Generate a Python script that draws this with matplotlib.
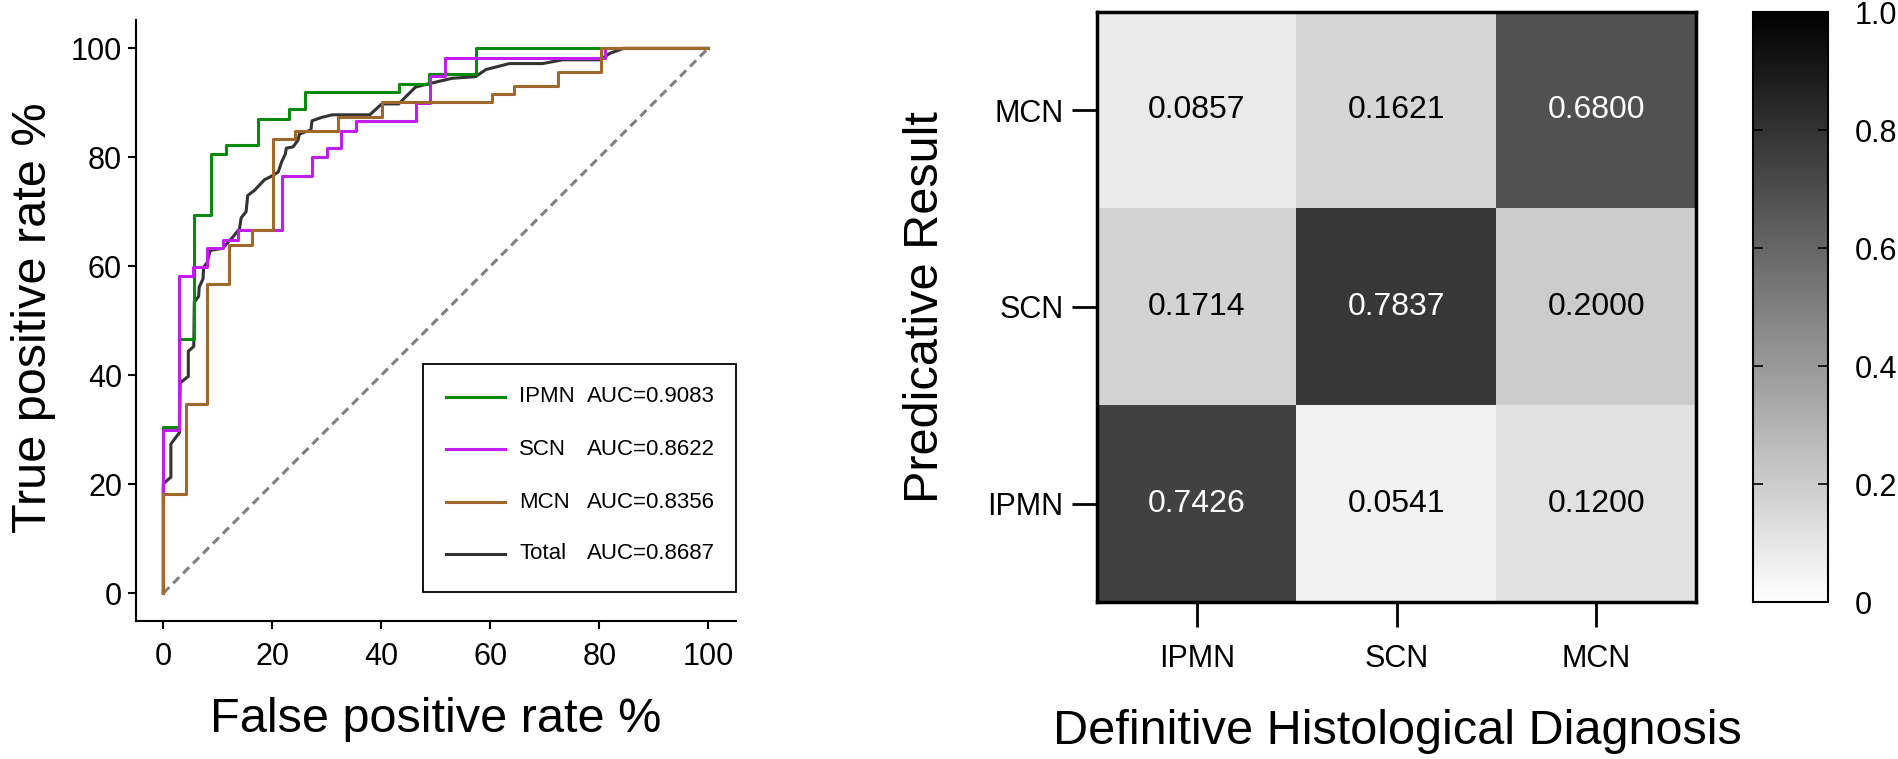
import matplotlib
matplotlib.use("Agg")
import matplotlib.pyplot as plt
from matplotlib.patches import Rectangle
import numpy as np

plt.rcParams['font.family'] = ['Liberation Sans', 'DejaVu Sans']

# ---------------- ROC data (percent) ----------------
ipmn_fpr = [0, 0, 2.9, 5.7, 8.7, 11.5, 17.4, 23.0, 26.0, 43.2, 48.7, 57.4, 100]
ipmn_tpr = [0, 30.5, 46.7, 69.5, 80.6, 82.2, 87.1, 88.8, 92.0, 93.5, 95.2, 100, 100]

scn_fpr = [0, 0, 2.9, 5.5, 8.1, 10.9, 13.7, 21.8, 27.3, 30.0, 32.7, 35.4, 46.4, 49.0, 51.7, 81.0, 100]
scn_tpr = [0, 30.0, 58.3, 59.9, 63.3, 64.9, 66.6, 76.6, 80.0, 81.7, 84.9, 86.6, 89.9, 95.0, 98.3, 100, 100]

mcn_fpr = [0, 0, 4.1, 8.1, 12.1, 16.2, 20.2, 24.1, 32.1, 40.2, 60.3, 64.3, 72.5, 80.3, 100]
mcn_tpr = [0, 18.2, 34.7, 56.8, 63.9, 66.6, 83.3, 84.8, 87.4, 90.2, 91.7, 93.0, 95.7, 100, 100]

total_fpr = [0, 0, 1.4, 1.4, 3.0, 3.1, 4.6, 4.6, 5.6, 5.7, 6.5, 6.6, 7.3, 7.4, 8.1, 8.6,
             10.9, 12.8, 14.0, 14.3, 15.2, 15.5, 16.7, 18.6, 19.8, 21.1, 21.7, 22.4, 22.6,
             23.8, 24.7, 25.0, 27.1, 27.3, 29.0, 31.0, 37.9, 40.1, 43.2, 46.3, 48.7, 53.0,
             57.3, 59.2, 63.5, 69.6, 73.3, 80.1, 82.0, 84.5, 100]
total_tpr = [0, 20.1, 21.3, 27.4, 29.5, 38.6, 39.8, 44.4, 45.3, 53.4, 54.5, 56.2, 57.7, 59.8, 60.8, 62.9,
             63.3, 65.4, 66.9, 68.9, 70.0, 73.0, 73.9, 75.9, 76.5, 77.3, 79.1, 80.6, 81.7,
             81.9, 83.1, 84.3, 85.0, 86.7, 87.3, 87.8, 87.8, 89.8, 89.8, 92.9, 93.5, 94.5,
             94.8, 96.1, 97.2, 97.2, 97.9, 97.9, 99.1, 100, 100]

chance = [0, 100]

roc_names = ["IPMN", "SCN", "MCN", "Total"]
roc_auc = ["0.9083", "0.8622", "0.8356", "0.8687"]
roc_colors = ["#0a8a0a", "#c21cf0", "#a0692b", "#333333"]

# ---------------- Confusion matrix ----------------
pred_labels = ["MCN", "SCN", "IPMN"]          # rows, top to bottom
true_labels = ["IPMN", "SCN", "MCN"]          # columns, left to right
cm = np.array([[0.0857, 0.1621, 0.6800],
               [0.1714, 0.7837, 0.2000],
               [0.7426, 0.0541, 0.1200]])
cbar_ticks = [0, 0.2, 0.4, 0.6, 0.8, 1.0]
cbar_ticklabels = ["0", "0.2", "0.4", "0.6", "0.8", "1.0"]

W, H = 1898, 759
fig = plt.figure(figsize=(W / 100, H / 100), dpi=100)

def fx(px):
    return px / W

def fy(py):
    return 1 - py / H

# ---------------- Left: ROC ----------------
ax = fig.add_axes([fx(136), fy(621), fx(736 - 136), (621 - 20) / H])
ax.plot(chance, chance, color="#808080", lw=2.2, dashes=(2.8, 1.8), zorder=1)
ax.plot(total_fpr, total_tpr, color=roc_colors[3], lw=2.2, zorder=2)
ax.step(ipmn_fpr, ipmn_tpr, where="post", color=roc_colors[0], lw=2.2, zorder=3)
ax.step(scn_fpr, scn_tpr, where="post", color=roc_colors[1], lw=2.2, zorder=4)
ax.step(mcn_fpr, mcn_tpr, where="post", color=roc_colors[2], lw=2.2, zorder=5)

ax.set_xlim(-5, 105.1)
ax.set_ylim(-5.1, 105.2)
ax.set_xticks(range(0, 101, 20))
ax.set_yticks(range(0, 101, 20))
ax.spines["top"].set_visible(False)
ax.spines["right"].set_visible(False)
for s in ("left", "bottom"):
    ax.spines[s].set_linewidth(1.5)
ax.tick_params(axis="both", direction="out", length=6, width=1.5, labelsize=22)
ax.tick_params(axis="x", pad=9)
ax.tick_params(axis="y", pad=4)

# manual legend (box + lines + text)
box_x0, box_y0, box_x1, box_y1 = 47.7, 0.2, 105.1, 42.0
ax.add_patch(Rectangle((box_x0, box_y0), box_x1 - box_x0, box_y1 - box_y0,
                       fill=False, edgecolor="black", lw=1.3, zorder=6, clip_on=False))
row_y = [36.1, 26.4, 16.7, 7.2]
for name, auc, col, yy in zip(roc_names, roc_auc, roc_colors, row_y):
    ax.plot([51.9, 62.8], [yy, yy], color=col, lw=2.2, zorder=7)
    ax.text(65.3, yy, name, fontsize=16, va="center", ha="left", zorder=7)
    ax.text(77.8, yy, "AUC=" + auc, fontsize=16, va="center", ha="left", zorder=7)

fig.text(fx(34), fy(318), "True positive rate %", rotation=90, fontsize=35,
         ha="center", va="center")
fig.text(fx(436), fy(720), "False positive rate %", fontsize=35,
         ha="center", va="center")

# ---------------- Right: confusion matrix ----------------
hx = fig.add_axes([fx(1097), fy(602), fx(1696 - 1097), (602 - 12) / H])
im = hx.imshow(cm, cmap="gray_r", vmin=0, vmax=1, aspect="auto")
for i in range(cm.shape[0]):
    for j in range(cm.shape[1]):
        v = cm[i, j]
        hx.text(j, i, f"{v:.4f}", ha="center", va="center", fontsize=23,
                color="white" if v > 0.5 else "black")
hx.set_xticks(range(len(true_labels)))
hx.set_xticklabels(true_labels)
hx.set_yticks(range(len(pred_labels)))
hx.set_yticklabels(pred_labels)
for s in hx.spines.values():
    s.set_linewidth(2.5)
hx.tick_params(axis="both", direction="out", length=18, width=2, labelsize=22)
hx.tick_params(axis="x", pad=12)
hx.tick_params(axis="y", pad=6)

fig.text(fx(925), fy(307), "Predicative Result", rotation=90, fontsize=35,
         ha="center", va="center")
fig.text(fx(1397), fy(732), "Definitive Histological Diagnosis", fontsize=35,
         ha="center", va="center")

cax = fig.add_axes([fx(1753), fy(602), fx(1828 - 1753), (602 - 12) / H])
cb = fig.colorbar(im, cax=cax, ticks=cbar_ticks)
cb.ax.set_yticklabels(cbar_ticklabels)
cb.outline.set_linewidth(1.5)
cax.tick_params(axis="y", direction="in", left=True, right=True, length=7,
                width=1.2, labelsize=22, pad=19)

fig.savefig("out.png", dpi=100)
